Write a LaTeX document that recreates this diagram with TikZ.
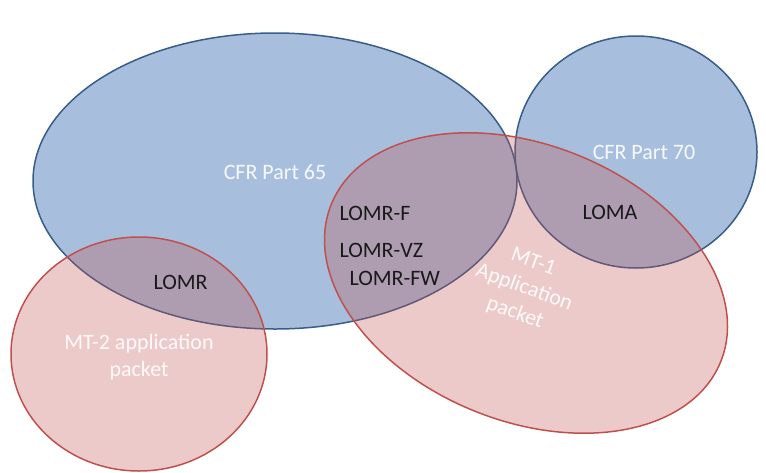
\documentclass[tikz,border=0pt]{standalone}
\usepackage{fontspec}
\setmainfont{Carlito}
\usetikzlibrary{shapes.geometric}
\definecolor{partfill}{RGB}{167,191,221}
\definecolor{partline}{RGB}{56,93,138}
\definecolor{packetred}{RGB}{192,80,77}
\tikzset{
	partset/.style={ellipse, draw=partline, fill=partfill, line width=1.5pt, inner sep=0pt},
	packetset/.style={ellipse, draw=packetred, fill=packetred, fill opacity=0.3, draw opacity=1, line width=1.5pt, inner sep=0pt},
	whitelbl/.style={text=white, text opacity=0.9, font=\fontsize{22}{27}\selectfont, align=center},
	blacklbl/.style={text=black!90, font=\fontsize{22}{27}\selectfont, anchor=west}
}
\begin{document}
\begin{tikzpicture}[x=1pt, y=-1pt]
				\useasboundingbox (0,0) rectangle (766,472);
				%regulation sets
				\node[partset, minimum width=484pt, minimum height=296pt] (part65) at (275,181){};
				\node[partset, minimum width=242pt, minimum height=232pt] (part70) at (636,152){};
				%application packets
				\node[packetset, minimum width=420pt, minimum height=276pt, rotate=-22] (mt1) at (526,283){};
				\node[packetset, minimum width=256pt, minimum height=234pt] (mt2) at (139,354){};
				%set names
				\node[whitelbl] (part65lbl) at (275,172){CFR Part 65};
				\node[whitelbl] (part70lbl) at (644,152){CFR Part 70};
				\node[whitelbl] (mt2lbl) at (139,357){MT-2 application\\packet};
				\node[whitelbl, rotate=-20] (mt1lbl) at (524,288){MT-1\\Application\\packet};
				%letter types
				\node[blacklbl] (loma) at (579,212){LOMA};
				\node[blacklbl] (lomr) at (150,282){LOMR};
				\node[blacklbl] (lomrf) at (336,213){LOMR-F};
				\node[blacklbl] (lomrvz) at (336,250){LOMR-VZ};
				\node[blacklbl] (lomrfw) at (346,278){LOMR-FW};
			\end{tikzpicture}
\end{document}
